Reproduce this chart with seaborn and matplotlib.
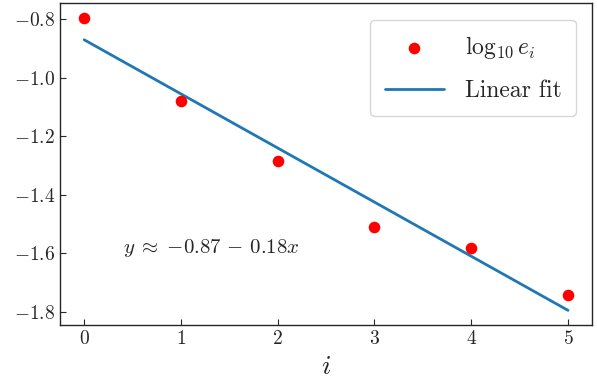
import numpy as np
import pandas as pd
import matplotlib
matplotlib.use('Agg')
import matplotlib.pyplot as plt
import seaborn as sns

# data
i_vals = [0, 1, 2, 3, 4, 5]
log_err = [-0.795, -1.080, -1.283, -1.510, -1.583, -1.742]

sns.set_style("ticks")
plt.rcParams['font.family'] = 'serif'
plt.rcParams['font.serif'] = ['cmr10']
plt.rcParams['mathtext.fontset'] = 'cm'
plt.rcParams['axes.formatter.use_mathtext'] = True
plt.rcParams['axes.unicode_minus'] = False

df = pd.DataFrame({'i': i_vals, 'y': log_err})
slope, intercept = np.polyfit(df['i'], df['y'], 1)
df['fit'] = intercept + slope * df['i']

fig = plt.figure(figsize=(5.97, 3.79), dpi=100)
ax = fig.add_axes([0.1005, 0.1425, 0.8915, 0.849])

sns.scatterplot(data=df, x='i', y='y', ax=ax, color='red', s=70, linewidth=0,
                label=r'$\log_{10} e_i$', zorder=3)
sns.lineplot(data=df, x='i', y='fit', ax=ax, color='#1f77b4', linewidth=2,
             label='Linear fit')

ax.text(0.4, -1.6, r'$y \;\approx\; {%.2f} \,-\, %.2fx$' % (intercept, -slope), fontsize=15)

ax.set_xlabel(r'$i$', fontsize=20)
ax.set_ylabel('')
ax.set_xticks(range(6))
ax.set_yticks([-0.8, -1.0, -1.2, -1.4, -1.6, -1.8])
ax.tick_params(direction='in', labelsize=14, length=4)
for s in ax.spines.values():
    s.set_linewidth(1)
ax.legend(loc='upper right', fontsize=17, handlelength=2.5, labelspacing=0.8,
          borderpad=0.6, borderaxespad=0.7, handletextpad=0.9)

fig.savefig('out.png', dpi=100)
